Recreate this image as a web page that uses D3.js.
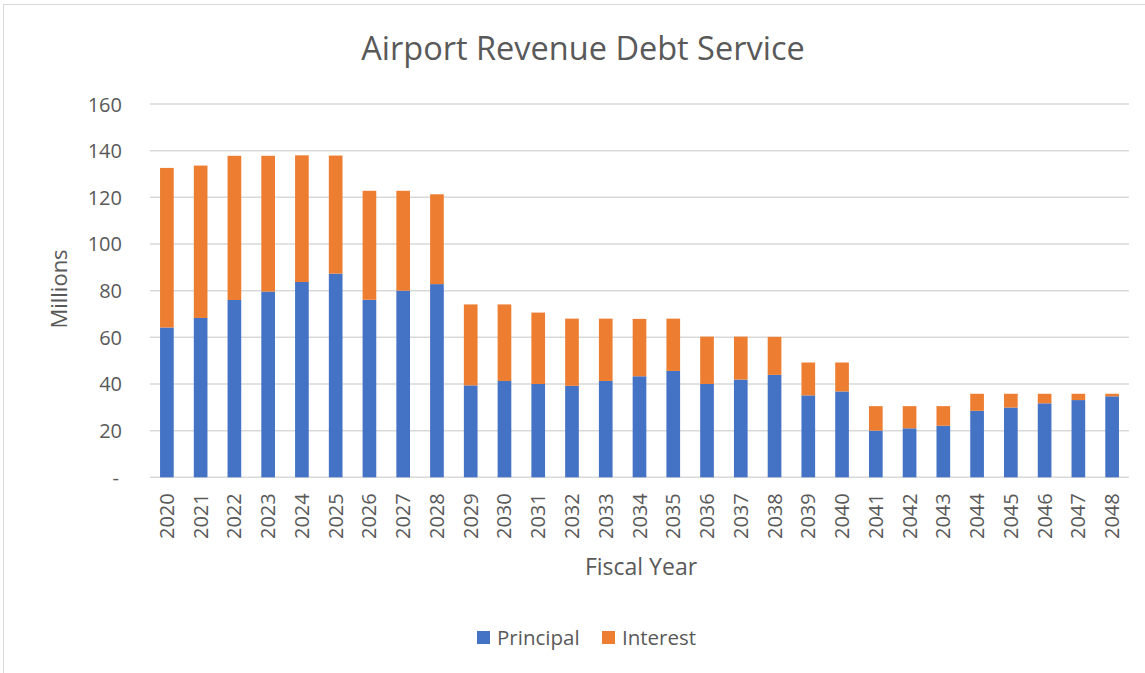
<!DOCTYPE html>
<html>
<head>
<meta charset="utf-8">
<script src="https://cdn.jsdelivr.net/npm/d3@7/dist/d3.min.js"></script>
<style>
  html, body { margin: 0; padding: 0; background: #fff; }
  svg { display: block; }
  text { font-family: "Open Sans", "Noto Sans", sans-serif; fill: #595959; }
</style>
</head>
<body>
<svg id="chart" width="1145" height="673"></svg>
<script>
// Fiscal years and debt service amounts (millions)
const years = ["2020","2021","2022","2023","2024","2025","2026","2027","2028","2029",
  "2030","2031","2032","2033","2034","2035","2036","2037","2038","2039",
  "2040","2041","2042","2043","2044","2045","2046","2047","2048"];
const principal = [64.2, 68.3, 76.0, 79.6, 83.7, 87.3, 76.1, 80.0, 82.8, 39.4,
  41.3, 40.0, 39.2, 41.3, 43.3, 45.6, 40.0, 41.9, 43.9, 35.1,
  36.8, 20.0, 21.0, 22.1, 28.5, 29.9, 31.7, 33.1, 34.7];
const interest = [68.4, 65.3, 61.8, 58.2, 54.3, 50.6, 46.7, 42.8, 38.5, 34.7,
  32.8, 30.6, 28.8, 26.7, 24.6, 22.4, 20.3, 18.4, 16.3, 14.1,
  12.4, 10.5, 9.5, 8.4, 7.3, 5.9, 4.1, 2.7, 1.1];
const yTicks = [0, 20, 40, 60, 80, 100, 120, 140, 160];
const seriesNames = ["Principal", "Interest"];
const seriesColors = ["#4472C4", "#ED7D31"];

const svg = d3.select("#chart");

// chart frame
svg.append("rect")
  .attr("x", 3.5).attr("y", 4.5)
  .attr("width", 1160).attr("height", 690)
  .attr("fill", "#fff").attr("stroke", "#d9d9d9").attr("stroke-width", 1);

const plot = { left: 150, right: 1129, top: 104, bottom: 477.3 };

const x = d3.scaleBand()
  .domain(years)
  .range([plot.left, plot.right])
  .paddingInner(0.595)
  .paddingOuter(0.2975);

const y = d3.scaleLinear()
  .domain([0, 160])
  .range([plot.bottom, plot.top]);

// horizontal gridlines
svg.append("g")
  .selectAll("line")
  .data(yTicks)
  .join("line")
  .attr("x1", plot.left).attr("x2", plot.right)
  .attr("y1", d => y(d)).attr("y2", d => y(d))
  .attr("stroke", "#d9d9d9").attr("stroke-width", 1.5);

// y axis labels
const yAxis = d3.axisLeft(y)
  .tickValues(yTicks)
  .tickSize(0)
  .tickPadding(0)
  .tickFormat(d => d === 0 ? "-" : d);
const yg = svg.append("g")
  .attr("transform", `translate(${plot.left - 28},0)`)
  .call(yAxis);
yg.select(".domain").remove();
yg.selectAll("text")
  .attr("font-size", 20)
  .attr("dy", "0.35em")
  .style("font-family", "'Open Sans', sans-serif")
  .attr("fill", "#595959");
yg.selectAll(".tick").filter(d => d === 0).select("text").attr("dx", -3);

// stacked bars
const rows = years.map((yr, i) => ({ year: yr, Principal: principal[i], Interest: interest[i] }));
const stack = d3.stack().keys(seriesNames)(rows);

svg.append("g")
  .selectAll("g")
  .data(stack)
  .join("g")
  .attr("fill", (d, i) => seriesColors[i])
  .selectAll("rect")
  .data(d => d)
  .join("rect")
  .attr("x", d => x(d.data.year))
  .attr("width", x.bandwidth())
  .attr("y", d => y(d[1]))
  .attr("height", d => y(d[0]) - y(d[1]));

// x axis
const xAxis = d3.axisBottom(x).tickSize(0).tickPadding(0);
const xg = svg.append("g")
  .attr("transform", `translate(0,${plot.bottom})`)
  .call(xAxis);
xg.select(".domain").remove();
xg.selectAll("text")
  .attr("font-size", 20)
  .attr("text-anchor", "end")
  .attr("transform", "rotate(-90)")
  .attr("x", -16)
  .attr("y", 0)
  .attr("dy", "0.35em")
  .style("font-family", "'Open Sans', sans-serif")
  .attr("fill", "#595959");

// title
svg.append("text")
  .attr("x", 583).attr("y", 60)
  .attr("text-anchor", "middle")
  .attr("font-size", 32.5)
  .text("Airport Revenue Debt Service");

// axis titles
svg.append("text")
  .attr("x", 641).attr("y", 575)
  .attr("text-anchor", "middle")
  .attr("font-size", 23)
  .text("Fiscal Year");

svg.append("text")
  .attr("transform", "translate(66.5,289) rotate(-90)")
  .attr("text-anchor", "middle")
  .attr("font-size", 22)
  .text("Millions");

// legend
const legend = svg.append("g").attr("transform", "translate(477,631)");
const legendX = [0, 125];
seriesNames.forEach((name, i) => {
  const g = legend.append("g").attr("transform", `translate(${legendX[i]},0)`);
  g.append("rect").attr("width", 13).attr("height", 13).attr("fill", seriesColors[i]);
  g.append("text").attr("x", 20).attr("y", 6.5).attr("dy", "0.35em")
    .attr("font-size", 20.5).text(name);
});
</script>
</body>
</html>
